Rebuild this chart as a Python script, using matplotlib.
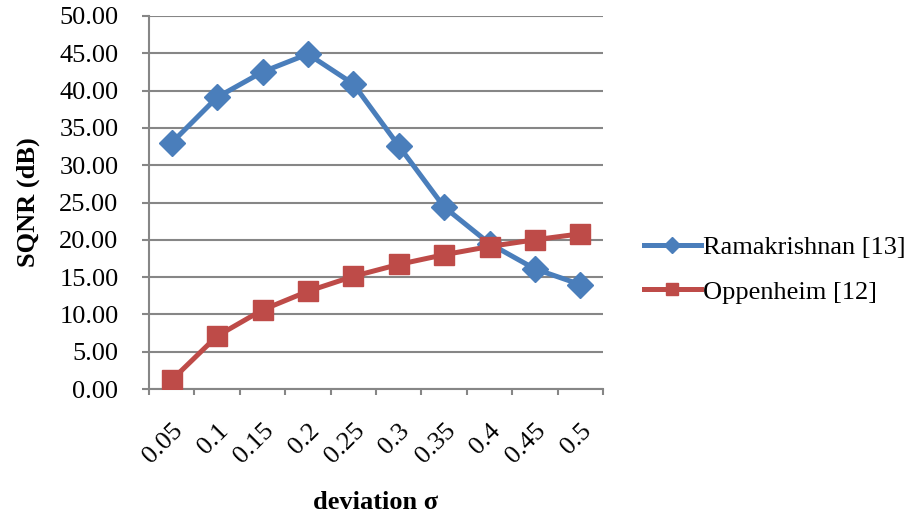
import matplotlib
matplotlib.use("Agg")
import matplotlib.pyplot as plt
import matplotlib.transforms as mtransforms
import numpy as np

categories = ["0.05", "0.1", "0.15", "0.2", "0.25", "0.3", "0.35", "0.4", "0.45", "0.5"]
ramakrishnan = [33.0, 39.1, 42.5, 44.9, 40.9, 32.6, 24.4, 19.5, 16.1, 14.0]
oppenheim = [1.2, 7.1, 10.6, 13.1, 15.1, 16.7, 18.0, 19.1, 20.0, 20.8]
yticks = [0, 5, 10, 15, 20, 25, 30, 35, 40, 45, 50]

plt.rcParams['font.family'] = ['Liberation Serif', 'DejaVu Serif']

fig = plt.figure(figsize=(9.11, 5.17), dpi=100)
ax = fig.add_axes([149/911, 1-389/517, (603-149)/911, (389-16)/517])

x = np.arange(len(categories))
gray = "#868686"
l1, = ax.plot(x, ramakrishnan, color="#4A7EBB", lw=3.6, marker="D", ms=13,
              label="Ramakrishnan [13]", zorder=3)
l2, = ax.plot(x, oppenheim, color="#BE4B48", lw=3.6, marker="s", ms=14,
              label="Oppenheim [12]", zorder=4)

ax.set_xlim(-0.5, len(categories) - 0.5)
ax.set_ylim(0, 50)
ax.set_yticks(yticks)
ax.set_yticklabels([f"{v:.2f}" for v in yticks], fontsize=19)
ax.yaxis.grid(True, color=gray, lw=1.5)
ax.set_axisbelow(True)

ax.set_xticks(x)
ax.set_xticklabels(categories, rotation=45, ha="right", va="top",
                   rotation_mode="anchor", fontsize=19)
offset = mtransforms.ScaledTranslation(-0.06, 0, fig.dpi_scale_trans)
for lab in ax.get_xticklabels():
    lab.set_transform(lab.get_transform() + offset)
ax.set_xticks(np.arange(-0.5, len(categories)), minor=True)
ax.tick_params(axis="x", which="major", length=0, pad=22)
ax.tick_params(axis="x", which="minor", length=4.5, width=1.5, color=gray, direction="out")
ax.tick_params(axis="y", length=5, width=1.5, color=gray, direction="out", pad=17)

for s in ["top", "right"]:
    ax.spines[s].set_visible(False)
for s in ["left", "bottom"]:
    ax.spines[s].set_color(gray)
    ax.spines[s].set_linewidth(1.5)

ax.set_ylabel("SQNR (dB)", fontsize=19, fontweight="bold", labelpad=14)
ax.set_xlabel("deviation σ", fontsize=19, fontweight="bold", labelpad=17)

fig.legend(handles=[l1, l2], loc="upper left", bbox_to_anchor=(633/911, 1-225/517),
           frameon=False, fontsize=19, handlelength=2.16, handletextpad=0.1,
           labelspacing=0.8, borderaxespad=0, markerscale=0.65)

fig.savefig("out.png", dpi=100)
